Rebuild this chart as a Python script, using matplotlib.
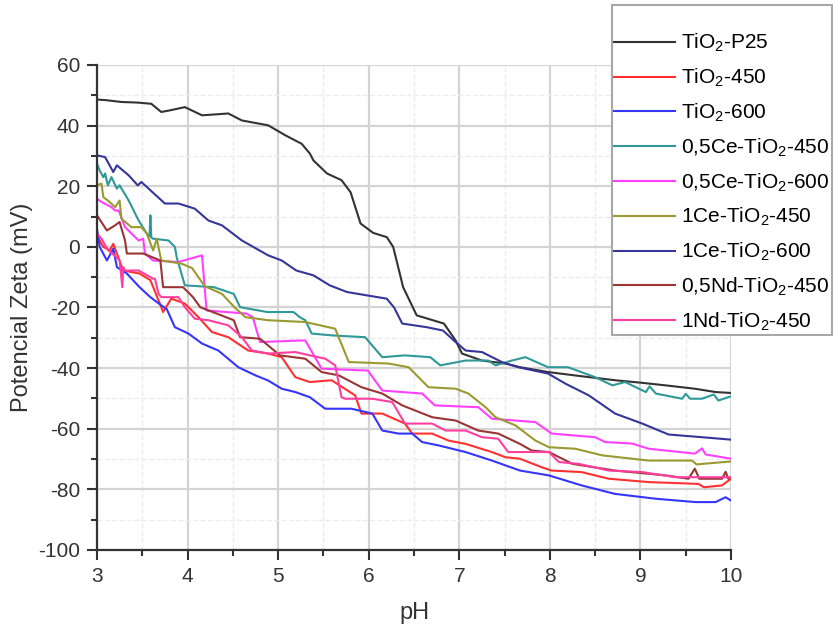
import matplotlib
matplotlib.use("Agg")
import matplotlib.pyplot as plt
from matplotlib.ticker import MultipleLocator

plt.rcParams['font.family'] = ['Liberation Sans', 'DejaVu Sans']
plt.rcParams['mathtext.default'] = 'regular'
plt.rcParams['axes.unicode_minus'] = False

# zeta potential vs pH
p25_x = [3.0, 3.1, 3.27, 3.45, 3.6, 3.71, 3.8, 3.97, 4.16, 4.45, 4.6, 4.89, 5.08, 5.26, 5.35,
         5.39, 5.54, 5.7, 5.8, 5.91, 6.05, 6.2, 6.27, 6.38, 6.53, 6.83, 6.96, 7.03, 7.25, 7.51,
         7.67, 7.98, 8.3, 8.72, 9.0, 9.28, 9.6, 9.83, 10.0]
p25_y = [48.6, 48.4, 47.8, 47.6, 47.2, 44.5, 45.0, 46.1, 43.4, 44.0, 41.7, 40.1, 36.8, 34.0, 30.8,
         28.5, 24.2, 22.0, 18.0, 7.7, 4.6, 3.2, 0.0, -13.3, -22.6, -25.3, -30.9, -35.2, -37.5, -38.5,
         -39.7, -41.3, -42.5, -44.0, -44.8, -45.7, -46.8, -47.9, -48.2]

t450_x = [3.0, 3.03, 3.07, 3.14, 3.18, 3.29, 3.47, 3.59, 3.71, 3.73, 3.82, 3.97, 4.12, 4.27, 4.45,
          4.67, 4.89, 5.04, 5.19, 5.35, 5.59, 5.85, 5.92, 6.15, 6.4, 6.48, 6.7, 6.88, 7.07, 7.36,
          7.51, 7.67, 7.91, 8.02, 8.35, 8.65, 9.09, 9.64, 9.7, 9.9, 10.0]
t450_y = [3.8, 2.1, 0.0, -1.2, 1.0, -7.8, -8.8, -11.0, -19.9, -21.5, -17.1, -18.7, -23.2, -28.1, -29.8,
          -34.2, -35.2, -36.4, -43.0, -44.6, -44.0, -49.0, -55.0, -55.0, -58.3, -61.6, -61.6, -63.9, -65.0, -67.7,
          -69.4, -69.9, -72.7, -73.8, -74.3, -76.5, -77.6, -78.2, -79.3, -78.7, -76.5]

t600_x = [3.0, 3.03, 3.11, 3.18, 3.22, 3.33, 3.47, 3.59, 3.71, 3.77, 3.86, 4.01, 4.16, 4.34, 4.56,
          4.75, 4.89, 5.04, 5.19, 5.35, 5.52, 5.81, 6.04, 6.15, 6.33, 6.48, 6.59, 6.77, 7.07, 7.36,
          7.67, 7.99, 8.35, 8.72, 9.17, 9.61, 9.83, 9.94, 10.0]
t600_y = [6.0, 0.0, -4.5, -0.6, -6.7, -8.8, -13.3, -16.6, -19.3, -20.5, -26.5, -28.6, -31.9, -34.2, -39.7,
          -42.4, -44.1, -46.8, -47.9, -49.6, -53.4, -53.4, -55.0, -60.6, -61.6, -61.6, -64.4, -65.5, -67.7, -70.5,
          -73.8, -75.4, -78.7, -81.5, -83.1, -84.2, -84.2, -82.6, -83.7]

ce05_450_x = [3.0, 3.03, 3.07, 3.09, 3.12, 3.16, 3.22, 3.25, 3.35, 3.46, 3.55, 3.58, 3.59, 3.6, 3.62,
              3.79, 3.86, 3.88, 3.97, 4.29, 4.51, 4.58, 4.88, 5.17, 5.24, 5.3, 5.37, 5.59, 5.96, 6.15,
              6.4, 6.68, 6.79, 7.07, 7.32, 7.4, 7.58, 7.73, 7.98, 8.2, 8.5, 8.69, 8.83, 9.06, 9.1,
              9.17, 9.46, 9.5, 9.55, 9.68, 9.81, 9.86, 10.0]
ce05_450_y = [27.5, 25.2, 23.0, 24.2, 20.3, 23.0, 19.2, 20.3, 15.3, 8.7, 4.4, 3.5, 10.4, 3.0, 2.7,
              2.1, 0.0, -3.4, -12.7, -13.3, -15.5, -19.9, -21.5, -21.5, -23.2, -24.2, -28.6, -29.2, -29.8, -36.4,
              -35.8, -36.4, -39.1, -37.5, -37.5, -39.1, -37.5, -36.4, -39.7, -39.7, -43.0, -45.7, -44.6, -47.9, -46.0,
              -48.4, -50.1, -48.5, -50.1, -50.1, -48.7, -50.7, -49.3]

ce05_600_x = [3.0, 3.05, 3.16, 3.2, 3.24, 3.31, 3.46, 3.51, 3.53, 3.62, 3.9, 4.16, 4.21, 4.65, 4.72,
              4.8, 5.24, 5.3, 5.48, 5.99, 6.15, 6.59, 6.73, 7.21, 7.36, 7.62, 7.84, 8.02, 8.5, 8.61,
              8.91, 9.09, 9.6, 9.68, 9.72, 10.0]
ce05_600_y = [15.9, 14.8, 13.1, 12.0, 12.0, 6.5, 2.1, 2.7, -2.2, -4.5, -5.0, -2.8, -21.0, -22.0, -23.2,
              -31.4, -30.9, -30.9, -40.2, -40.8, -47.4, -48.4, -52.3, -52.9, -56.7, -57.3, -57.8, -61.6, -62.8, -64.4,
              -64.9, -66.6, -68.2, -66.5, -68.5, -69.9]

ce1_450_x = [3.0, 3.05, 3.07, 3.12, 3.2, 3.25, 3.27, 3.38, 3.49, 3.55, 3.62, 3.66, 3.71, 3.93, 4.05,
             4.19, 4.38, 4.52, 4.64, 4.89, 5.3, 5.63, 5.78, 6.22, 6.44, 6.66, 6.96, 7.1, 7.29, 7.4,
             7.62, 7.84, 7.99, 8.28, 8.58, 9.09, 9.57, 9.62, 9.68, 10.0]
ce1_450_y = [20.3, 20.9, 16.4, 15.3, 13.1, 15.3, 9.3, 6.5, 6.5, 4.4, -1.2, 2.7, -4.5, -5.5, -7.0,
             -13.0, -15.5, -20.0, -23.2, -24.2, -24.8, -27.0, -38.0, -38.5, -39.7, -46.3, -46.8, -48.4, -52.9, -56.2,
             -58.9, -63.9, -66.1, -66.6, -68.8, -70.5, -70.5, -71.8, -71.6, -70.8]

ce1_600_x = [3.0, 3.09, 3.18, 3.22, 3.35, 3.45, 3.49, 3.75, 3.9, 4.08, 4.23, 4.38, 4.6, 4.89, 5.04,
             5.2, 5.39, 5.57, 5.76, 5.98, 6.2, 6.28, 6.37, 6.64, 6.82, 6.94, 7.07, 7.25, 7.47, 7.65,
             7.98, 8.17, 8.43, 8.72, 9.02, 9.31, 9.68, 10.0]
ce1_600_y = [30.2, 29.6, 24.7, 26.9, 23.6, 20.3, 21.4, 14.3, 14.3, 12.6, 8.7, 7.1, 2.1, -2.8, -4.5,
             -7.8, -9.4, -12.7, -14.9, -16.0, -17.1, -20.0, -25.3, -26.5, -27.6, -30.9, -34.2, -34.7, -38.0, -39.7,
             -41.8, -45.1, -49.0, -55.0, -58.3, -61.9, -62.8, -63.6]

nd05_x = [3.0, 3.11, 3.2, 3.25, 3.31, 3.33, 3.51, 3.7, 3.73, 3.95, 4.06, 4.14, 4.51, 4.58, 4.8,
          5.02, 5.3, 5.48, 5.67, 5.92, 6.15, 6.37, 6.7, 6.96, 7.21, 7.43, 7.67, 7.8, 7.99, 8.25,
          8.72, 9.28, 9.53, 9.6, 9.65, 9.9, 9.94, 9.97, 10.0]
nd05_y = [10.4, 5.4, 7.1, 8.2, 2.1, -2.2, -2.2, -4.5, -13.3, -13.3, -16.6, -19.9, -24.2, -29.8, -30.3,
          -35.8, -36.9, -41.3, -42.4, -46.3, -48.4, -52.3, -56.2, -57.3, -60.6, -61.6, -65.0, -67.2, -67.7, -71.6,
          -73.8, -75.4, -76.5, -73.2, -76.5, -76.5, -74.2, -76.5, -76.0]

nd1_x = [3.0, 3.05, 3.12, 3.2, 3.25, 3.28, 3.29, 3.31, 3.46, 3.62, 3.64, 3.68, 3.71, 3.9, 3.97,
         4.08, 4.23, 4.45, 4.6, 4.71, 4.89, 5.19, 5.35, 5.52, 5.63, 5.7, 5.74, 6.04, 6.26, 6.4,
         6.7, 6.85, 7.07, 7.25, 7.43, 7.54, 7.67, 7.99, 8.1, 8.32, 8.65, 9.02, 9.39, 9.68, 10.0]
nd1_y = [4.4, 2.7, -1.0, -3.0, -4.5, -13.3, -6.7, -7.8, -7.8, -10.5, -10.5, -15.5, -16.6, -16.6, -19.9,
         -23.7, -24.2, -25.9, -29.8, -34.2, -35.2, -34.7, -35.8, -36.9, -39.1, -49.6, -50.1, -50.1, -51.2, -58.3,
         -58.3, -60.6, -60.6, -62.8, -63.3, -67.7, -67.7, -67.7, -71.0, -71.6, -73.8, -74.3, -76.0, -76.0, -76.0]

labels = ['TiO$_2$-P25', 'TiO$_2$-450', 'TiO$_2$-600', '0,5Ce-TiO$_2$-450', '0,5Ce-TiO$_2$-600',
          '1Ce-TiO$_2$-450', '1Ce-TiO$_2$-600', '0,5Nd-TiO$_2$-450', '1Nd-TiO$_2$-450']
series = [(p25_x, p25_y), (t450_x, t450_y), (t600_x, t600_y), (ce05_450_x, ce05_450_y),
          (ce05_600_x, ce05_600_y), (ce1_450_x, ce1_450_y), (ce1_600_x, ce1_600_y),
          (nd05_x, nd05_y), (nd1_x, nd1_y)]
colors = ['#333333', '#ff3030', '#3535ff', '#2f9898', '#ff40ff', '#9a9a30', '#35359a', '#9a3535', '#ff3f9f']

fig = plt.figure(figsize=(8.33, 6.31), dpi=100)
ax = fig.add_axes([0.1164, 0.1284, 0.7612, 0.7686])

handles = []
for (x, y), lab, c in zip(series, labels, colors):
    h, = ax.plot(x, y, color=c, lw=1.5, label=lab)
    handles.append(h)

ax.set_xlim(3, 10)
ax.set_ylim(-100, 60)
ax.xaxis.set_major_locator(MultipleLocator(1))
ax.xaxis.set_minor_locator(MultipleLocator(0.5))
ax.yaxis.set_major_locator(MultipleLocator(20))
ax.yaxis.set_minor_locator(MultipleLocator(10))

ax.grid(True, which='major', color='#d4d4d4', lw=1.6)
ax.grid(True, which='minor', color='#ececec', lw=1.0, ls='--')
ax.set_axisbelow(True)

for s in ['top', 'right']:
    ax.spines[s].set_visible(False)
for s in ['left', 'bottom']:
    ax.spines[s].set_linewidth(1.6)
    ax.spines[s].set_color('#333333')

ax.tick_params(which='major', direction='out', length=7, width=1.5, color='#333333',
               labelsize=15, labelcolor='#333333', pad=5)
ax.tick_params(which='minor', direction='out', length=4, width=1.5, color='#333333')

ax.set_xlabel('pH', fontsize=17, color='#333333', labelpad=12)
ax.set_ylabel('Potencial Zeta (mV)', fontsize=17, color='#333333', labelpad=4)

leg = fig.legend(handles=handles, loc='upper right', bbox_to_anchor=(0.9985, 0.992),
                 fontsize=15, frameon=True, fancybox=False, framealpha=1,
                 edgecolor='#a8a8a8', handlelength=2.9, handletextpad=0.3,
                 labelspacing=0.6, borderpad=0.12, borderaxespad=0,
                 title=' ', title_fontsize=9)
leg.get_frame().set_linewidth(1.5)

fig.savefig('out.png', dpi=100)
